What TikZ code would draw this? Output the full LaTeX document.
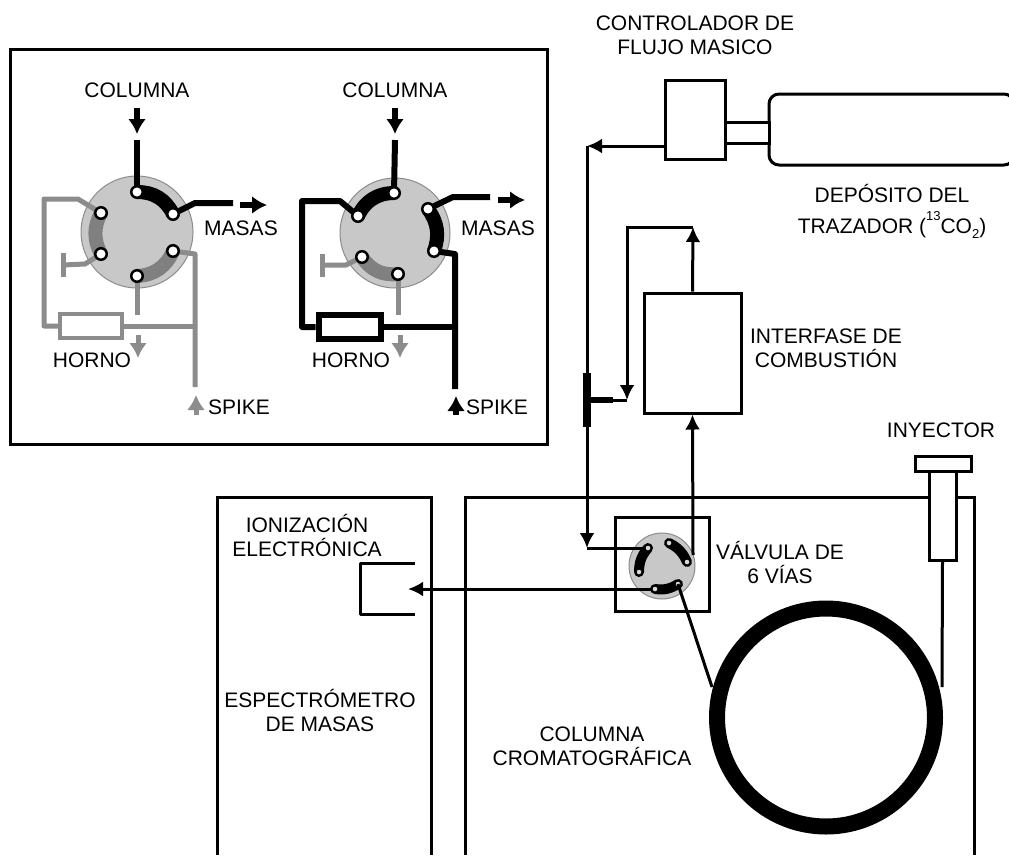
\documentclass[tikz,border=0pt]{standalone}
\usepackage{fontspec}
\setmainfont{Liberation Sans}
\usepackage{xcolor}
\usetikzlibrary{arrows.meta,positioning,calc}
\definecolor{TubeGray}{HTML}{8C8C8C}
\definecolor{SlotGray}{HTML}{808080}
\definecolor{DiscGray}{HTML}{C8C8C8}
\tikzset{
  Lbl/.style={align=center, inner sep=0pt, font=\fontsize{21}{24}\selectfont},
  Fbox/.style={draw, line width=3pt, fill=white, inner sep=0pt},
  Wall/.style={draw, line width=3pt},
  Narr/.style={-{Latex[length=15pt,width=15pt]}, line width=3pt},
  Thin/.style={line width=3pt, line join=round},
  Disc/.style={draw=TubeGray, fill=DiscGray, line width=1pt, circle, inner sep=0pt},
  Port/.style={circle, draw=black, fill=white, line width=2.5pt, minimum size=11.5pt, inner sep=0pt},
  SmallPort/.style={circle, draw=black, fill=white!85!black, line width=1pt, minimum size=6pt, inner sep=0pt},
  BTube/.style={draw=black, line width=6pt, line join=round},
  GTube/.style={draw=TubeGray, line width=5pt, line join=round},
  BSlot/.style={draw=black, line width=14pt},
  GSlot/.style={draw=SlotGray, line width=14pt},
  CSlot/.style={draw=black, line width=10pt, line cap=round},
  BArr/.style={-{Latex[length=15pt,width=18pt]}, draw=black, line width=6pt},
  GArr/.style={-{Latex[length=15pt,width=18pt]}, draw=TubeGray, line width=5pt},
  Horno/.style={fill=white, inner sep=0pt, minimum width=62pt, minimum height=24pt}
}
\begin{document}
\begin{tikzpicture}[x=1pt,y=-1pt]
  \useasboundingbox (0,0) rectangle (1009,855);

  % inset
  \node[Fbox, minimum width=537pt, minimum height=395pt] (inset) at (278.5,246.5) {};

  % valve A
  \coordinate (a1) at (137,192);
  \coordinate (a2) at (173,214);
  \coordinate (a3) at (173,251);
  \coordinate (a4) at (137,276);
  \coordinate (a5) at (101,254);
  \coordinate (a6) at (101,213);
  \node[Disc, minimum size=112pt] (discA) at (137,232) {};
  \draw[BSlot] (a1) to[bend left=32] (a2);
  \draw[GSlot] (a3) to[bend left=32] (a4);
  \draw[GSlot] (a5) to[bend left=28] (a6);
  \coordinate (inA) at (137,140);
  \coordinate (outA) at (233,203);
  \coordinate (spikeA) at (195,387);
  \coordinate (ventA) at (137,315);
  \coordinate (tA) at (63,265);
  \node[Horno, draw=TubeGray, line width=4pt] (hornoA) at (91,326) {};
  \draw[BTube] (inA) -- (a1);
  \draw[BTube] (a2) -- ++(22,-11) -- (outA);
  \draw[GTube] (a6) -- ++(-23,-14) -- ++(-34,0) |- (hornoA.west);
  \draw[GTube] (a3) -- ++(22,3) -- (spikeA);
  \draw[GTube] (hornoA.east) -- (hornoA.east -| spikeA);
  \draw[GTube] (a4) -- (ventA);
  \draw[GTube] (a5) -- ++(-16,10) -- (tA);
  \draw[GTube] (tA) ++(0,-12) -- ++(0,24);
  \foreach \p in {a1,a2,a3,a4,a5,a6} { \node[Port] (n\p) at (\p) {}; }

  % valve B
  \coordinate (b1) at (394,193);
  \coordinate (b2) at (428,209);
  \coordinate (b3) at (434,251);
  \coordinate (b4) at (398,274);
  \coordinate (b5) at (362,257);
  \coordinate (b6) at (358,216);
  \node[Disc, minimum size=110pt] (discB) at (395,233) {};
  \draw[BSlot] (b6) to[bend left=32] (b1);
  \draw[BSlot] (b2) to[bend left=28] (b3);
  \draw[GSlot] (b4) to[bend left=32] (b5);
  \coordinate (inB) at (395,140);
  \coordinate (outB) at (490,197);
  \coordinate (spikeB) at (455,389);
  \coordinate (ventB) at (398,315);
  \coordinate (tB) at (322,265);
  \node[Horno, draw=black, line width=6pt] (hornoB) at (349.5,327) {};
  \draw[BTube] (inB) -- (b1);
  \draw[BTube] (b2) -- ++(25,-12) -- (outB);
  \draw[BTube] (b6) -- ++(-18,-15) -- ++(-38,0) |- (hornoB.west);
  \draw[BTube] (b3) -- ++(21,3) -- (spikeB);
  \draw[BTube] (hornoB.east) -- (hornoB.east -| spikeB);
  \draw[GTube] (b4) -- (ventB);
  \draw[GTube] (b5) -- ++(-16,8) -- (tB);
  \draw[GTube] (tB) ++(0,-11) -- ++(0,23);
  \foreach \p in {b1,b2,b3,b4,b5,b6} { \node[Port] (n\p) at (\p) {}; }

  % little arrows of the inset
  \draw[BArr] (137,108) coordinate (colA) -- (137,134);
  \draw[BArr] (395,108) coordinate (colB) -- (395,134);
  \draw[BArr] (240,205) coordinate (masA) -- (267,205);
  \draw[BArr] (498,200) coordinate (masB) -- (525,200);
  \draw[GArr] (138,335) coordinate (hoA) -- (138,358);
  \draw[GArr] (400,335) coordinate (hoB) -- (400,358);
  \draw[GArr] (196,415) coordinate (spA) -- (196,395);
  \draw[BArr] (456,415) coordinate (spB) -- (456,396);

  \node[Lbl] (lcolA) at (137,90) {COLUMNA};
  \node[Lbl] (lcolB) at (395,90) {COLUMNA};
  \node[Lbl] (lmasA) at (241,228) {MASAS};
  \node[Lbl] (lmasB) at (498,228) {MASAS};
  \node[Lbl] (lhoA) at (92,360) {HORNO};
  \node[Lbl] (lhoB) at (351,360) {HORNO};
  \node[Lbl] (lspA) at (239,407) {SPIKE};
  \node[Lbl] (lspB) at (497,407) {SPIKE};

  % cabinets
  \draw[Wall] (217,855) |- (431,497) -- (431,855);
  \draw[Wall] (465,855) |- (974,497) -- (974,855);

  % tracer side
  \node[Fbox, minimum width=60pt, minimum height=79pt] (ctrl) at (695,119.5) {};
  \node[Fbox, rounded corners=10pt, minimum width=245pt, minimum height=71pt] (tank) at (891.5,129.5) {};
  \node[Fbox, minimum width=44pt, minimum height=21pt] (neck) at (747,132.5) {};
  \node[Fbox, minimum width=97pt, minimum height=120pt] (iface) at (692.5,353) {};
  \node[Fbox, fill=none, minimum width=94pt, minimum height=94pt] (vbox) at (662,564) {};

  % valve C
  \coordinate (c1) at (669,543);
  \coordinate (c2) at (687,562);
  \coordinate (c3) at (678,584);
  \coordinate (c4) at (655,589);
  \coordinate (c5) at (639,572);
  \coordinate (c6) at (648,548);
  \node[Disc, minimum size=66pt] (discC) at (662,566) {};
  \draw[CSlot] (c1) to[bend left=20] (c2);
  \draw[CSlot] (c3) to[bend left=20] (c4);
  \draw[CSlot] (c5) to[bend left=20] (c6);

  \coordinate (corner) at (587,146);
  \coordinate (vin) at (587,548);
  \coordinate (vout) at (693,555);
  \coordinate (tee) at (587,400);
  \coordinate (stub) at (613,400);
  \coordinate (back) at (627,400);
  \coordinate (top) at (693,227);
  \coordinate (ei) at (408,589);
  \draw[Narr] (ctrl.west |- corner) -- (corner);
  \draw[Narr] (corner) -- (vin);
  \draw[Thin] (vin) -- (c6);
  \draw[Narr] (vout) -- (iface.south);
  \draw[Narr] (c4) -- (ei);
  \draw[line width=8pt] (tee) ++(0,-27) -- ++(0,54);
  \draw[line width=6pt] (tee) -- (stub);
  \draw[Thin] (stub) -- (back);
  \draw[Narr] (top) -| (back);
  \draw[Narr] (iface.north) -- (top);

  \foreach \p in {c1,c2,c3,c4,c5,c6} { \node[SmallPort] (n\p) at (\p) {}; }

  % ion source
  \coordinate (eiT) at (415,563);
  \coordinate (eiB) at (415,614);
  \draw[Thin] (eiT) -- ++(-55,0) |- (eiB);

  % injector and column
  \node[Fbox, minimum width=27pt, minimum height=89pt] (barrel) at (942.5,515.5) {};
  \node[Fbox, minimum width=56pt, minimum height=15pt] (cap) at (943,463.5) {};
  \node[draw, circle, line width=16pt, minimum size=218pt, inner sep=0pt] (coil) at (826,717.5) {};
  \coordinate (coilE) at (942,687);
  \coordinate (coilW) at (712,687);
  \draw[Thin] (barrel.south) -- (coilE);
  \draw[Thin] (c3) -- (coilW);

  \node[Lbl] (lctrl) at (695,35) {CONTROLADOR DE\\FLUJO MASICO};
  \node[Lbl] (ldep) at (892,193) {DEPÓSITO DEL};
  \node[Lbl] (ltra) at (892,225) {TRAZADOR (\raisebox{13pt}{\fontsize{13}{13}\selectfont 13}CO\raisebox{-5pt}{\fontsize{13}{13}\selectfont 2})};
  \node[Lbl] (lint) at (826,348.5) {INTERFASE DE\\COMBUSTIÓN};
  \node[Lbl] (liny) at (941,430) {INYECTOR};
  \node[Lbl] (lval) at (780,562.5) {VÁLVULA DE\\6 VÍAS};
  \node[Lbl] (lion) at (307,535.5) {IONIZACIÓN\\ELECTRÓNICA};
  \node[Lbl] (lesp) at (320,710.5) {ESPECTRÓMETRO\\DE MASAS};
  \node[Lbl] (lcro) at (592,746.5) {COLUMNA\\CROMATOGRÁFICA};
\end{tikzpicture}
\end{document}
